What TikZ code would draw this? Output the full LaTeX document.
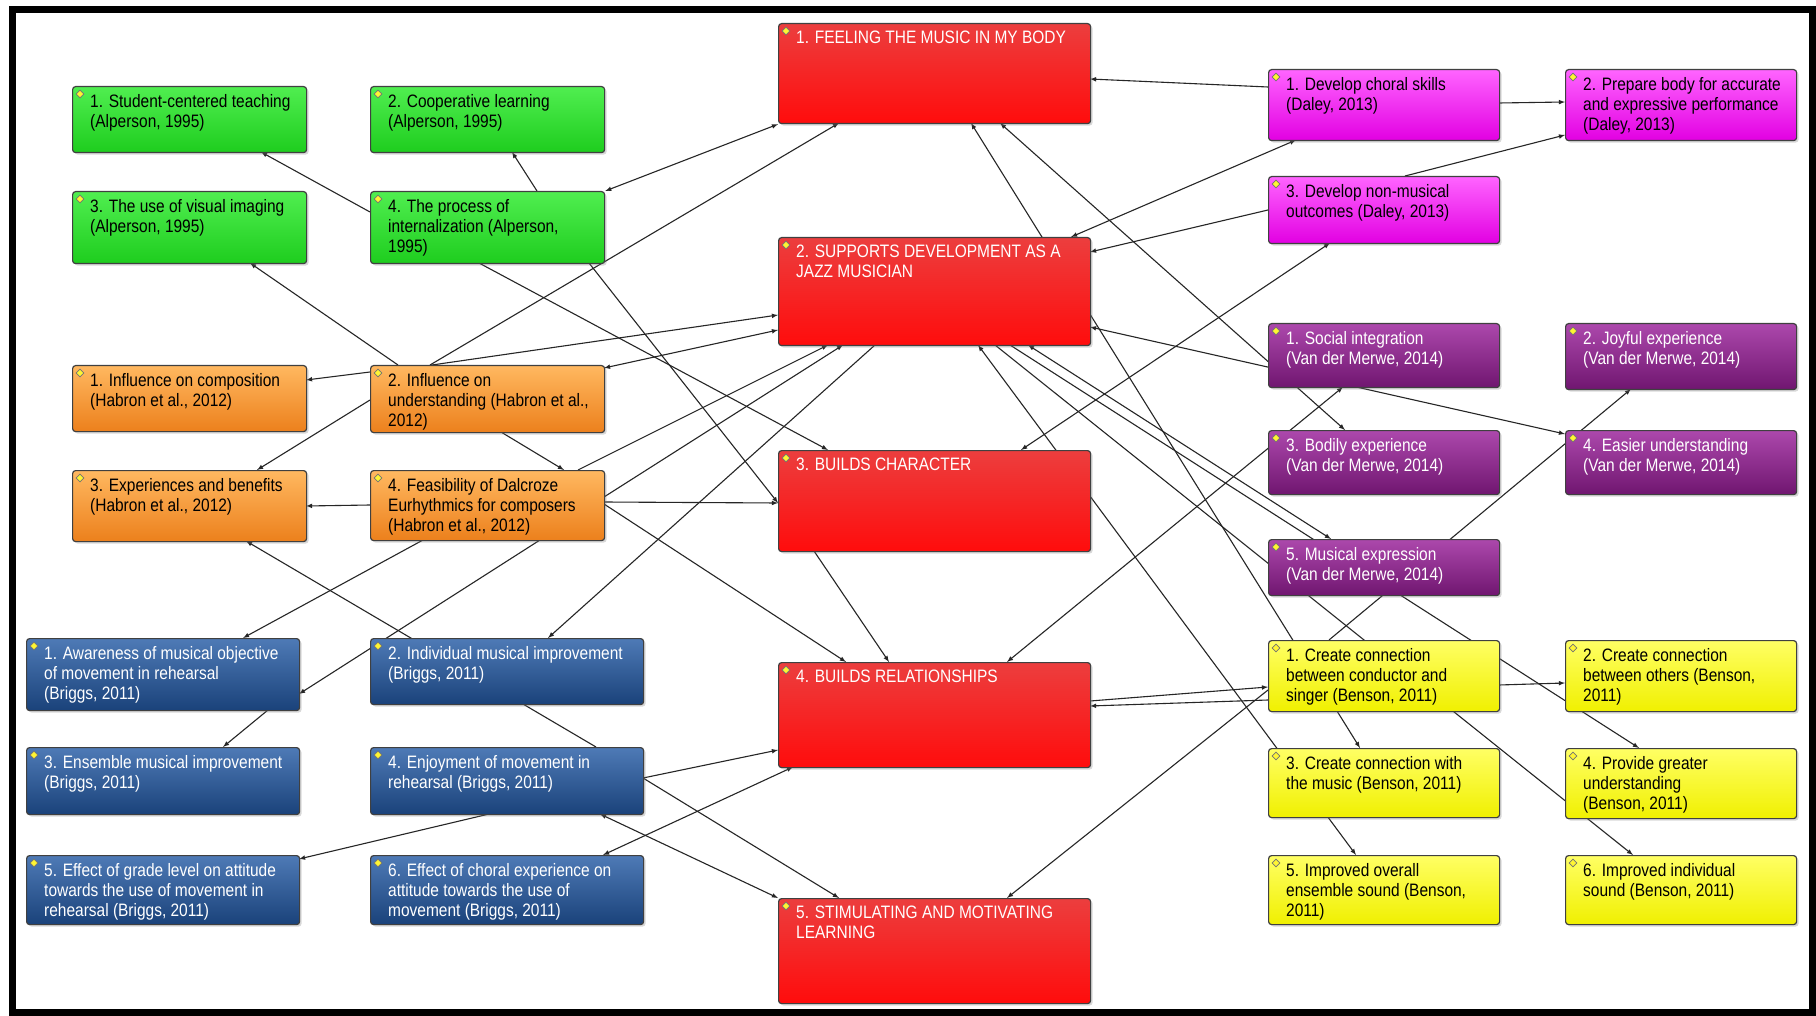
\documentclass[tikz,border=0pt]{standalone}
\usepackage{fontspec}
\setmainfont{Liberation Sans}[FakeStretch=0.86]
\usetikzlibrary{arrows, calc, shadows, backgrounds, shapes.geometric}
\definecolor{greentop}{RGB}{80,238,80}
\definecolor{greenbot}{RGB}{30,205,30}
\definecolor{orangetop}{RGB}{255,184,96}
\definecolor{orangebot}{RGB}{236,128,28}
\definecolor{bluetop}{RGB}{78,122,182}
\definecolor{bluebot}{RGB}{26,66,122}
\definecolor{redtop}{RGB}{236,62,62}
\definecolor{redbot}{RGB}{255,12,12}
\definecolor{magtop}{RGB}{255,100,255}
\definecolor{magbot}{RGB}{226,0,226}
\definecolor{purptop}{RGB}{172,72,172}
\definecolor{purpbot}{RGB}{112,22,112}
\definecolor{yeltop}{RGB}{255,255,100}
\definecolor{yelbot}{RGB}{240,240,0}
\begin{document}
\begin{tikzpicture}[
  x=1pt, y=-1pt,
  > = latex,
  font=\fontsize{18}{20}\selectfont,
  icon/.style = {diamond, draw=black!55, line width=.6pt, fill=yellow!80!white, inner sep=0pt, minimum size=8pt, anchor=center, xshift=8pt, yshift=-8pt},
  box/.style = {draw=black!75, line width=1.2pt, rounded corners=3pt, anchor=north west, inner sep=0pt, drop shadow={opacity=.3, shadow xshift=2pt, shadow yshift=-2pt}, label={[icon]north west:{}}},
  gbox/.style = {box, minimum width=234pt, top color=greentop, bottom color=greenbot},
  obox/.style = {box, minimum width=234pt, top color=orangetop, bottom color=orangebot},
  bbox/.style = {box, minimum width=273pt, top color=bluetop, bottom color=bluebot},
  rbox/.style = {box, minimum width=312pt, top color=redtop, bottom color=redbot},
  mbox/.style = {box, minimum width=231pt, top color=magtop, bottom color=magbot},
  pbox/.style = {box, minimum width=231pt, top color=purptop, bottom color=purpbot},
  ybox/.style = {box, minimum width=231pt, top color=yeltop, bottom color=yelbot},
  txt/.style = {anchor=north west, xshift=18pt, yshift=-8pt, inner sep=0pt, align=left},
  dtxt/.style = {txt, text=black},
  wtxt/.style = {txt, text=white},
  cline/.style = {->, line width=1.1pt, black!85},
  bline/.style = {<->, line width=1.1pt, black!85}
  ]
  \useasboundingbox (0,0) rectangle (1816,1016);

  \node[gbox, minimum height=66pt, label={[dtxt]north west:{1. Student-centered teaching\\(Alperson, 1995)}}] (G1) at (72,86) {};
  \node[gbox, minimum height=66pt, label={[dtxt]north west:{2. Cooperative learning\\(Alperson, 1995)}}] (G2) at (370,86) {};
  \node[gbox, minimum height=72pt, label={[dtxt]north west:{3. The use of visual imaging\\(Alperson, 1995)}}] (G3) at (72,191) {};
  \node[gbox, minimum height=72pt, label={[dtxt]north west:{4. The process of\\internalization (Alperson,\\1995)}}] (G4) at (370,191) {};

  \node[obox, minimum height=66pt, label={[dtxt]north west:{1. Influence on composition\\(Habron et al., 2012)}}] (O1) at (72,365) {};
  \node[obox, minimum height=67pt, label={[dtxt]north west:{2. Influence on\\understanding (Habron et al.,\\2012)}}] (O2) at (370,365) {};
  \node[obox, minimum height=71pt, label={[dtxt]north west:{3. Experiences and benefits\\(Habron et al., 2012)}}] (O3) at (72,470) {};
  \node[obox, minimum height=70pt, label={[dtxt]north west:{4. Feasibility of Dalcroze\\Eurhythmics for composers\\(Habron et al., 2012)}}] (O4) at (370,470) {};

  \node[bbox, minimum height=72pt, label={[wtxt]north west:{1. Awareness of musical objective\\of movement in rehearsal\\(Briggs, 2011)}}] (B1) at (26,638) {};
  \node[bbox, minimum height=66pt, label={[wtxt]north west:{2. Individual musical improvement\\(Briggs, 2011)}}] (B2) at (370,638) {};
  \node[bbox, minimum height=67pt, label={[wtxt]north west:{3. Ensemble musical improvement\\(Briggs, 2011)}}] (B3) at (26,747) {};
  \node[bbox, minimum height=67pt, label={[wtxt]north west:{4. Enjoyment of movement in\\rehearsal (Briggs, 2011)}}] (B4) at (370,747) {};
  \node[bbox, minimum height=69pt, label={[wtxt]north west:{5. Effect of grade level on attitude\\towards the use of movement in\\rehearsal (Briggs, 2011)}}] (B5) at (26,855) {};
  \node[bbox, minimum height=69pt, label={[wtxt]north west:{6. Effect of choral experience on\\attitude towards the use of\\movement (Briggs, 2011)}}] (B6) at (370,855) {};

  \node[rbox, minimum height=100pt, label={[wtxt]north west:{1. FEELING THE MUSIC IN MY BODY}}] (R1) at (778,23) {};
  \node[rbox, minimum height=108pt, label={[wtxt]north west:{2. SUPPORTS DEVELOPMENT AS A\\JAZZ MUSICIAN}}] (R2) at (778,237) {};
  \node[rbox, minimum height=101pt, label={[wtxt]north west:{3. BUILDS CHARACTER}}] (R3) at (778,450) {};
  \node[rbox, minimum height=105pt, label={[wtxt]north west:{4. BUILDS RELATIONSHIPS}}] (R4) at (778,662) {};
  \node[rbox, minimum height=105pt, label={[wtxt]north west:{5. STIMULATING AND MOTIVATING\\LEARNING}}] (R5) at (778,898) {};

  \node[mbox, minimum height=71pt, label={[dtxt]north west:{1. Develop choral skills\\(Daley, 2013)}}] (M1) at (1268,69) {};
  \node[mbox, minimum height=71pt, label={[dtxt]north west:{2. Prepare body for accurate\\and expressive performance\\(Daley, 2013)}}] (M2) at (1565,69) {};
  \node[mbox, minimum height=67pt, label={[dtxt]north west:{3. Develop non-musical\\outcomes (Daley, 2013)}}] (M3) at (1268,176) {};

  \node[pbox, minimum height=64pt, label={[wtxt]north west:{1. Social integration\\(Van der Merwe, 2014)}}] (P1) at (1268,323) {};
  \node[pbox, minimum height=66pt, label={[wtxt]north west:{2. Joyful experience\\(Van der Merwe, 2014)}}] (P2) at (1565,323) {};
  \node[pbox, minimum height=64pt, label={[wtxt]north west:{3. Bodily experience\\(Van der Merwe, 2014)}}] (P3) at (1268,430) {};
  \node[pbox, minimum height=64pt, label={[wtxt]north west:{4. Easier understanding\\(Van der Merwe, 2014)}}] (P4) at (1565,430) {};
  \node[pbox, minimum height=56pt, label={[wtxt]north west:{5. Musical expression\\(Van der Merwe, 2014)}}] (P5) at (1268,539) {};

  \node[ybox, minimum height=71pt, label={[dtxt]north west:{1. Create connection\\between conductor and\\singer (Benson, 2011)}}] (Y1) at (1268,640) {};
  \node[ybox, minimum height=71pt, label={[dtxt]north west:{2. Create connection\\between others (Benson,\\2011)}}] (Y2) at (1565,640) {};
  \node[ybox, minimum height=69pt, label={[dtxt]north west:{3. Create connection with\\the music (Benson, 2011)}}] (Y3) at (1268,748) {};
  \node[ybox, minimum height=70pt, label={[dtxt]north west:{4. Provide greater\\understanding\\(Benson, 2011)}}] (Y4) at (1565,748) {};
  \node[ybox, minimum height=69pt, label={[dtxt]north west:{5. Improved overall\\ensemble sound (Benson,\\2011)}}] (Y5) at (1268,855) {};
  \node[ybox, minimum height=69pt, label={[dtxt]north west:{6. Improved individual\\sound (Benson, 2011)}}] (Y6) at (1565,855) {};

  \draw[line width=7pt] (12,10) rectangle (1812,1012);

  \begin{pgfonlayer}{background}
  \fill[white] (0,0) rectangle (1816,1016);
  \draw[cline] ($(G4.north west)+(0,21)$) -- ($(G1.north west)+(189,66)$);
  \draw[cline] ($(G4.north west)+(167,0)$) -- ($(G2.north west)+(142,66)$);
  \draw[bline] (G4.north east) -- (R1.south west);
  \draw[cline] ($(O2.north west)+(60,0)$) -- ($(R1.north west)+(61,100)$);
  \draw[cline] ($(O2.north west)+(28,0)$) -- ($(G3.north west)+(178,72)$);
  \draw[cline] ($(G4.north west)+(109,72)$) -- ($(R3.north west)+(50,0)$);
  \draw[cline] ($(G4.north west)+(219,72)$) -- ($(R3.north west)+(0,53)$);
  \draw[cline] ($(O2.north west)+(0,7)$) -- ($(O1.north west)+(234,15)$);
  \draw[cline] ($(O2.north west)+(0,35)$) -- ($(O3.north west)+(185,0)$);
  \draw[bline] ($(O2.north west)+(234,3)$) -- ($(R2.north west)+(0,93)$);
  \draw[cline] ($(O2.north west)+(62,0)$) -- ($(R2.north west)+(0,78)$);
  \draw[cline] ($(O4.north west)+(0,35)$) -- ($(O3.north west)+(234,36)$);
  \draw[cline] ($(O4.north west)+(234,32)$) -- ($(R3.north west)+(0,53)$);
  \draw[cline] ($(O4.north west)+(234,34)$) -- ($(R4.north west)+(68,0)$);
  \draw[cline] ($(O2.north west)+(131,67)$) -- ($(O4.north west)+(194,0)$);
  \draw[cline] ($(O4.north west)+(208,0)$) -- ($(R2.north west)+(50,108)$);
  \draw[cline] ($(O4.north west)+(234,27)$) -- ($(R2.north west)+(65,108)$);
  \draw[cline] ($(R2.north west)+(97,108)$) -- ($(B2.north west)+(178,0)$);
  \draw[cline] ($(O4.north west)+(53,70)$) -- ($(B1.north west)+(217,0)$);
  \draw[cline] ($(B4.north west)+(226,0)$) -- ($(O3.north west)+(174,71)$);
  \draw[cline] ($(O4.north west)+(170,70)$) -- ($(B1.north west)+(273,56)$);
  \draw[cline] ($(B1.north west)+(242,72)$) -- ($(B3.north west)+(197,0)$);
  \draw[cline] ($(B4.north west)+(119,67)$) -- ($(B5.north west)+(273,4)$);
  \draw[cline] ($(B4.north west)+(273,31)$) -- ($(R4.north west)+(0,88)$);
  \draw[cline] ($(B4.north west)+(273,31)$) -- ($(R5.north west)+(61,0)$);
  \draw[bline] ($(B4.north west)+(230,67)$) -- (R5.north west);
  \draw[bline] ($(R4.north west)+(15,105)$) -- ($(B6.north west)+(233,0)$);
  \draw[cline] ($(R4.north west)+(312,39)$) -- ($(Y1.north west)+(0,47)$);
  \draw[cline] ($(Y1.north west)+(0,60)$) -- ($(R4.north west)+(312,44)$);
  \draw[cline] ($(Y1.north west)+(0,50)$) -- ($(R5.north west)+(229,0)$);
  \draw[cline] ($(R3.north west)+(36,101)$) -- ($(R4.north west)+(111,0)$);
  \draw[bline] ($(R4.north west)+(229,0)$) -- ($(P1.north west)+(75,64)$);
  \draw[bline] ($(R2.north west)+(200,108)$) -- ($(Y5.north west)+(88,0)$);
  \draw[bline] ($(R1.north west)+(193,100)$) -- ($(Y3.north west)+(92,0)$);
  \draw[bline] ($(R1.north west)+(222,100)$) -- ($(P3.north west)+(77,0)$);
  \draw[bline] ($(R2.north west)+(312,90)$) -- ($(P4.north west)+(0,4)$);
  \draw[bline] ($(R2.north west)+(250,108)$) -- ($(P5.north west)+(63,0)$);
  \draw[cline] ($(R2.north west)+(232,108)$) -- ($(Y4.north west)+(74,0)$);
  \draw[cline] ($(R2.north west)+(217,108)$) -- ($(Y6.north west)+(68,0)$);
  \draw[cline] ($(M1.north west)+(0,18)$) -- ($(R1.north west)+(312,56)$);
  \draw[cline] ($(M1.north west)+(231,34)$) -- ($(M2.north west)+(0,33)$);
  \draw[cline] ($(M3.north west)+(137,0)$) -- ($(M2.north west)+(0,66)$);
  \draw[bline] ($(M1.north west)+(28,71)$) -- ($(R2.north west)+(293,0)$);
  \draw[cline] ($(M3.north west)+(0,34)$) -- ($(R2.north west)+(312,15)$);
  \draw[bline] ($(M3.north west)+(62,67)$) -- ($(R3.north west)+(243,0)$);
  \draw[cline] ($(Y1.north west)+(61,0)$) -- ($(P2.north west)+(66,66)$);
  \draw[cline] ($(Y1.north west)+(231,45)$) -- ($(Y2.north west)+(0,43)$);
  \end{pgfonlayer}
\end{tikzpicture}
\end{document}
